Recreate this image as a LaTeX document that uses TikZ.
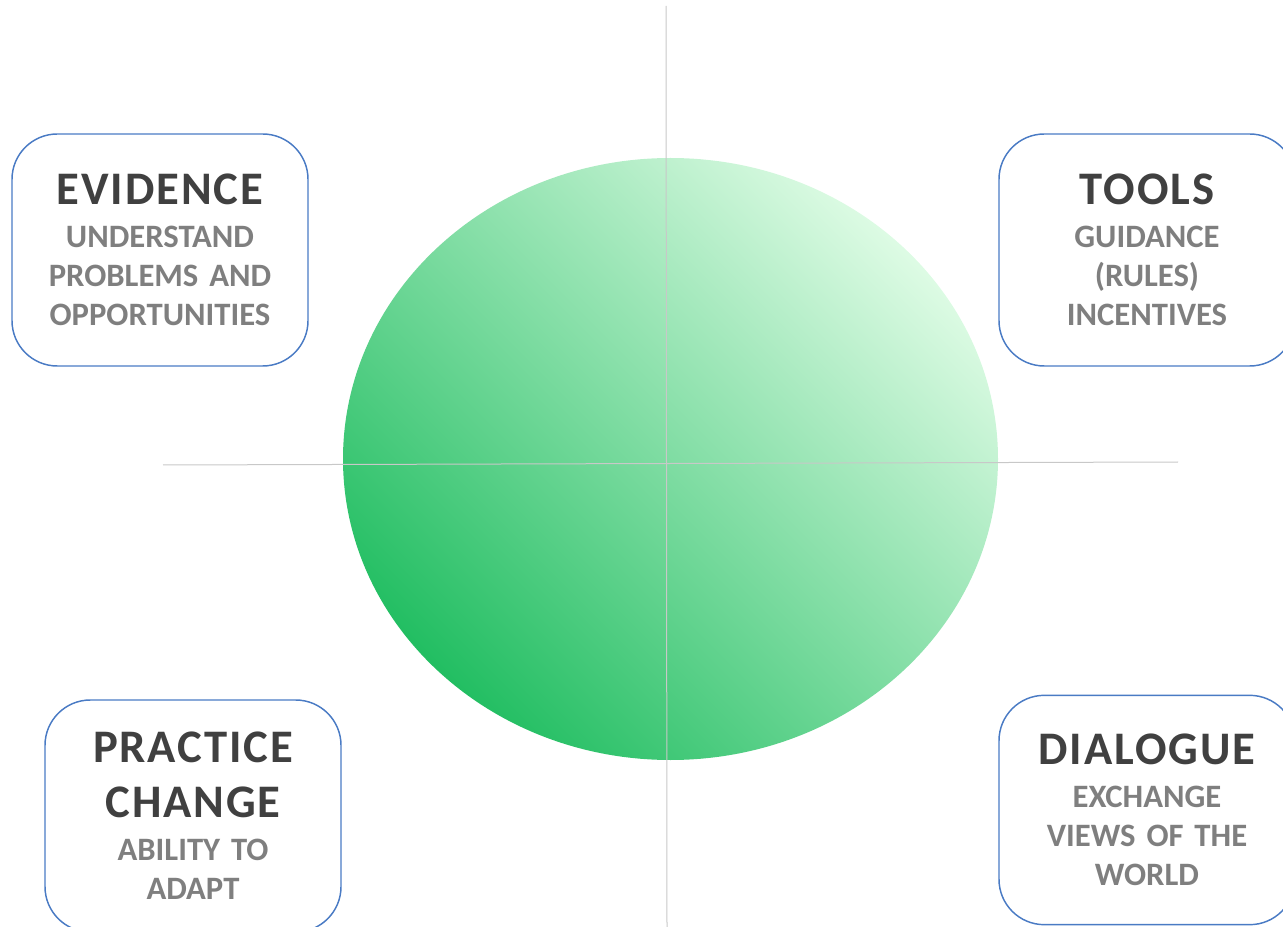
\documentclass[tikz,border=0pt]{standalone}
\usepackage{fontspec}
\setmainfont{Carlito}
\newfontfamily\headfont[LetterSpace=4]{Carlito}
\usepackage{tikz}

\definecolor{boxblue}{HTML}{4A7BC4}
\definecolor{headgray}{HTML}{404040}
\definecolor{subgray}{HTML}{7F7F7F}
\definecolor{axisgray}{HTML}{C8C8C8}
\definecolor{greendark}{HTML}{22BE62}
\definecolor{greenlight}{HTML}{DDFBE4}

\newcommand{\headtxt}[1]{{\headfont\fontsize{35}{41}\selectfont\leavevmode\color{headgray}#1\par}\vspace{3pt}}

\begin{document}
\begin{tikzpicture}[x=0.75pt, y=-0.75pt]
\tikzstyle{card} = [draw=boxblue, line width=1.1pt, rounded corners=34pt, minimum width=222pt, minimum height=174pt, text width=210pt, align=center, inner sep=0pt, text=subgray, font={\bfseries\fontsize{24.5}{29.25}\selectfont}]
\tikzstyle{axis} = [draw=axisgray, line width=0.75pt]
\useasboundingbox (0,0) rectangle (1283,927);

\shade[top color=greenlight, bottom color=greendark, shading angle=-45] (670.5,459) ellipse (327.5 and 301);

\coordinate (vtop) at (666,6);
\coordinate (vbot) at (667,927);
\coordinate (hleft) at (163,465);
\coordinate (hright) at (1178,462);
\draw[axis] (vtop) -- (vbot);
\draw[axis] (hleft) -- (hright);

\node[card] (evidence) at (160,250) {\headtxt{EVIDENCE}UNDERSTAND\\PROBLEMS AND\\OPPORTUNITIES};
\node[card] (tools) at (1147,250) {\headtxt{TOOLS}GUIDANCE\\(RULES)\\INCENTIVES};
\node[card] (practice) at (193,816) {\headtxt{PRACTICE\\CHANGE}ABILITY TO\\ADAPT};
\node[card, minimum height=172pt] (dialogue) at (1147,810) {\headtxt{DIALOGUE}EXCHANGE\\VIEWS OF THE\\WORLD};
\end{tikzpicture}
\end{document}
